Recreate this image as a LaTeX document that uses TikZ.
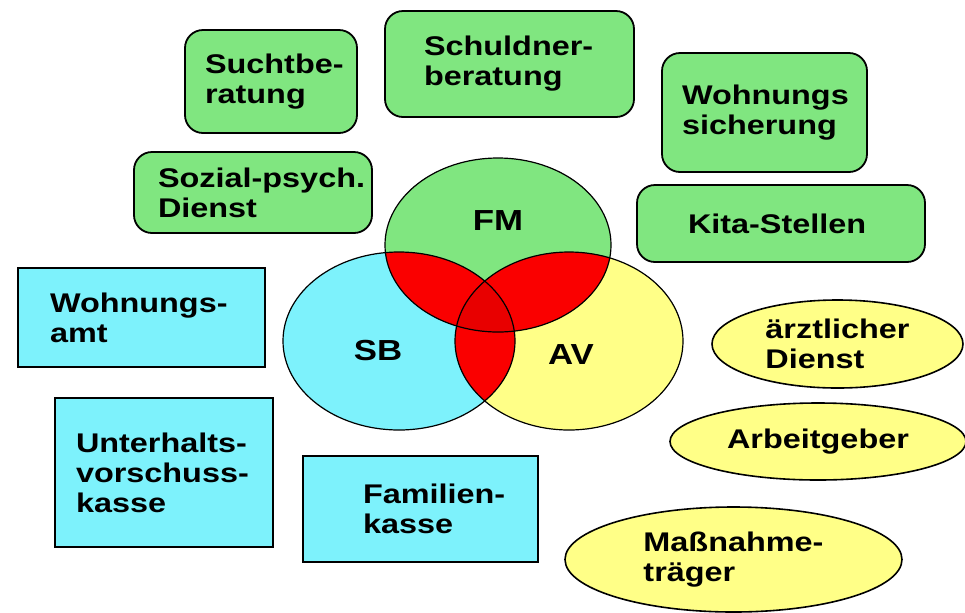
\documentclass[tikz,border=0pt]{standalone}
\usepackage{xcolor}
\usepackage{fontspec}
\usepackage{tikz}
\usetikzlibrary{shapes.geometric}
\newfontfamily\lblfont[FakeStretch=1.2]{Liberation Sans}
\definecolor{fmgreen}{RGB}{128,230,128}
\definecolor{sbcyan}{RGB}{125,242,252}
\definecolor{avyellow}{RGB}{255,255,135}
\definecolor{lensred}{RGB}{250,0,0}
\definecolor{corered}{RGB}{232,0,0}
\exhyphenpenalty=10000
\hyphenpenalty=10000

\begin{document}
\begin{tikzpicture}[x=0.5pt, y=0.5pt,
  boxtext/.style={align=left, font=\lblfont\bfseries\fontsize{13.5}{15}\selectfont},
  greenbox/.style={boxtext, draw, fill=fmgreen, rounded corners=9pt, line width=0.9pt},
  cyanbox/.style={boxtext, draw, fill=sbcyan, line width=0.9pt},
  yellowoval/.style={boxtext, ellipse, draw, fill=avyellow, inner sep=0pt, line width=0.8pt},
  setlabel/.style={font=\lblfont\bfseries\fontsize{14.5}{16}\selectfont}]

% Frame
\useasboundingbox (0,0) rectangle (965,-612);
\fill[white] (0,0) rectangle (965,-612);

% Centres of the three sets
\coordinate (cFM) at (498,-245);
\coordinate (cSB) at (399,-341);
\coordinate (cAV) at (569,-341);

% Set fills
\fill[fmgreen] (cFM) ellipse [x radius=113, y radius=87];
\fill[sbcyan] (cSB) ellipse [x radius=116, y radius=89];
\fill[avyellow] (cAV) ellipse [x radius=114, y radius=89];

% Pairwise overlaps
\begin{scope}
  \clip (cFM) ellipse [x radius=113, y radius=87];
  \fill[lensred] (cSB) ellipse [x radius=116, y radius=89];
  \fill[lensred] (cAV) ellipse [x radius=114, y radius=89];
\end{scope}
\begin{scope}
  \clip (cSB) ellipse [x radius=116, y radius=89];
  \fill[lensred] (cAV) ellipse [x radius=114, y radius=89];
\end{scope}

% Common core
\begin{scope}
  \clip (cFM) ellipse [x radius=113, y radius=87];
  \clip (cSB) ellipse [x radius=116, y radius=89];
  \fill[corered] (cAV) ellipse [x radius=114, y radius=89];
\end{scope}

% Outlines
\draw[line width=0.6pt] (cFM) ellipse [x radius=113, y radius=87];
\draw[line width=0.6pt] (cSB) ellipse [x radius=116, y radius=89];
\draw[line width=0.6pt] (cAV) ellipse [x radius=114, y radius=89];

\node[setlabel] (lFM) at (498,-221) {FM};
\node[setlabel] (lSB) at (378,-351) {SB};
\node[setlabel] (lAV) at (571,-355) {AV};

% Green services
\node[greenbox, text width=66pt, inner xsep=10pt, minimum height=51.5pt] (sucht) at (271,-81.5) {Suchtbe-\\ratung};
\node[greenbox, text width=85.5pt, inner xsep=19.5pt, minimum height=53pt] (schuldner) at (509.5,-64) {Schuldner-\\beratung};
\node[greenbox, text width=82.5pt, inner xsep=10pt, minimum height=59.5pt] (wsich) at (764.5,-112.5) {Wohnungs\\sicherung};
\node[greenbox, text width=95pt, inner xsep=12pt, minimum height=40.5pt] (sozial) at (253,-192.5) {Sozial-psych.\\Dienst};
\node[greenbox, text width=93pt, inner xsep=25.5pt, minimum height=38.5pt] (kita) at (781,-223.5) {Kita-Stellen};

% Cyan services
\node[cyanbox, text width=91.5pt, inner xsep=16pt, minimum height=49.5pt] (wamt) at (141.5,-317.5) {Wohnungs-\\amt};
\node[cyanbox, text width=88pt, inner xsep=10.5pt, minimum height=74.5pt] (uvk) at (164,-472.5) {Unterhalts-\\vorschuss-\\kasse};
\node[cyanbox, text width=57.5pt, inner xsep=30pt, minimum height=53pt] (fkasse) at (420.5,-509) {Familien-\\kasse};

% Yellow services
\node[yellowoval, minimum width=125.5pt, minimum height=44pt] (arzt) at (837.5,-344) {\"arztlicher\\Dienst};
\node[yellowoval, minimum width=148pt, minimum height=38.5pt] (arbeitg) at (818,-441.5) {Arbeitgeber};
\node[yellowoval, minimum width=168.5pt, minimum height=52.5pt] (massn) at (733.5,-559.5) {Ma\ss nahme-\\tr\"ager};

\end{tikzpicture}
\end{document}
